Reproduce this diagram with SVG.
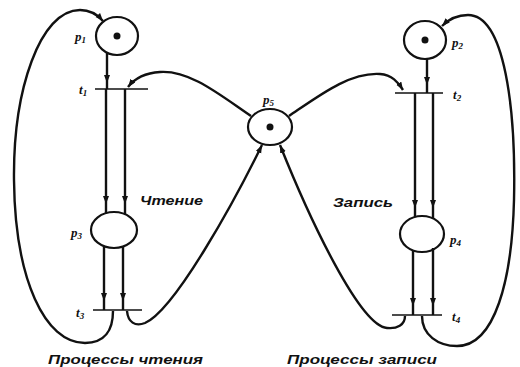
<svg xmlns="http://www.w3.org/2000/svg" width="520" height="367" viewBox="0 0 520 367">
<style>
.pl{fill:none;stroke:#111;stroke-width:2.2}
.tk{fill:#111}
.tr{stroke:#111;stroke-width:1.6}
.arc{fill:none;stroke:#111;stroke-width:2.4}
.lb{font-family:"Liberation Serif",serif;font-style:italic;font-weight:bold;font-size:13px;fill:#111}
.sb{font-size:9px}
.tx{font-family:"Liberation Sans",sans-serif;font-style:italic;font-weight:bold;font-size:13px;fill:#111}
</style>
<defs>
<marker id="ah" markerUnits="userSpaceOnUse" markerWidth="10" markerHeight="8" refX="8" refY="3" orient="auto">
<path d="M0,0 L8,3 L0,6 z" fill="#111"/>
</marker>
</defs>
<g id="connectors">
<path class="arc" d="M107,53 V83 V89" marker-mid="url(#ah)"/>
<path class="arc" d="M106,89 V204 V213" marker-mid="url(#ah)"/>
<path class="arc" d="M125,89 V204 V214" marker-mid="url(#ah)"/>
<path class="arc" d="M104,246 V301 V310" marker-mid="url(#ah)"/>
<path class="arc" d="M123,247 V301 V310" marker-mid="url(#ah)"/>
<path class="arc" d="M427,59 V85 V93" marker-mid="url(#ah)"/>
<path class="arc" d="M415,93 V208 V217" marker-mid="url(#ah)"/>
<path class="arc" d="M433,93 V208 V218" marker-mid="url(#ah)"/>
<path class="arc" d="M413,250 V306 V315" marker-mid="url(#ah)"/>
<path class="arc" d="M433,248 V306 V315" marker-mid="url(#ah)"/>
<path class="arc" d="M113,311 C113,330 105,343 85,343 C45,343 15,280 14,180 C13,90 40,10 80,10 C90,10 97,14 103,21" marker-end="url(#ah)"/>
<path class="arc" d="M127,311 C128,322 135,327 145,323 C175,310 235,200 262,145" marker-end="url(#ah)"/>
<path class="arc" d="M405,316 C405,325 397,329 387,328 C360,326 310,220 280,145" marker-end="url(#ah)"/>
<path class="arc" d="M422,316 C422,335 438,346 457,346 C495,346 512,280 514,200 C516,110 505,15 468,15 C458,15 449,19 442,26" marker-end="url(#ah)"/>
<path class="arc" d="M251,116 C220,95 190,70 160,72 C145,73 135,78 128,87" marker-end="url(#ah)"/>
<path class="arc" d="M289,116 C320,95 350,72 380,74 C392,75 398,82 403,90" marker-end="url(#ah)"/>
</g>
<g id="p1"><ellipse class="pl" cx="117" cy="36" rx="21" ry="19"/><circle class="tk" cx="117" cy="36" r="3.5"/><text class="lb" x="75" y="41">p<tspan class="sb" dy="2">1</tspan></text></g>
<g id="p2"><ellipse class="pl" cx="425" cy="40" rx="21" ry="19"/><circle class="tk" cx="425" cy="40" r="3.5"/><text class="lb" x="452" y="47">p<tspan class="sb" dy="2">2</tspan></text></g>
<g id="p3"><ellipse class="pl" cx="114" cy="230" rx="23" ry="18"/><text class="lb" x="71" y="237">p<tspan class="sb" dy="2">3</tspan></text></g>
<g id="p4"><ellipse class="pl" cx="422" cy="234" rx="22" ry="18"/><text class="lb" x="450" y="244">p<tspan class="sb" dy="2">4</tspan></text></g>
<g id="p5"><ellipse class="pl" cx="270" cy="127" rx="22" ry="18"/><circle class="tk" cx="270" cy="127" r="3.5"/><text class="lb" x="263" y="104">p<tspan class="sb" dy="2">5</tspan></text></g>
<g id="t1"><line class="tr" x1="95" y1="89" x2="148" y2="89"/><text class="lb" x="79" y="94">t<tspan class="sb" dy="2">1</tspan></text></g>
<g id="t2"><line class="tr" x1="395" y1="93" x2="443" y2="93"/><text class="lb" x="453" y="99">t<tspan class="sb" dy="2">2</tspan></text></g>
<g id="t3"><line class="tr" x1="93" y1="310" x2="142" y2="310"/><text class="lb" x="76" y="317">t<tspan class="sb" dy="2">3</tspan></text></g>
<g id="t4"><line class="tr" x1="392" y1="315" x2="442" y2="315"/><text class="lb" x="452" y="321">t<tspan class="sb" dy="2">4</tspan></text></g>
<text class="tx" x="140" y="205" textLength="63" lengthAdjust="spacingAndGlyphs">Чтение</text>
<text class="tx" x="333" y="207" textLength="60" lengthAdjust="spacingAndGlyphs">Запись</text>
<text class="tx" x="48" y="364" textLength="155" lengthAdjust="spacingAndGlyphs">Процессы чтения</text>
<text class="tx" x="287" y="364" textLength="150" lengthAdjust="spacingAndGlyphs">Процессы записи</text>
</svg>
